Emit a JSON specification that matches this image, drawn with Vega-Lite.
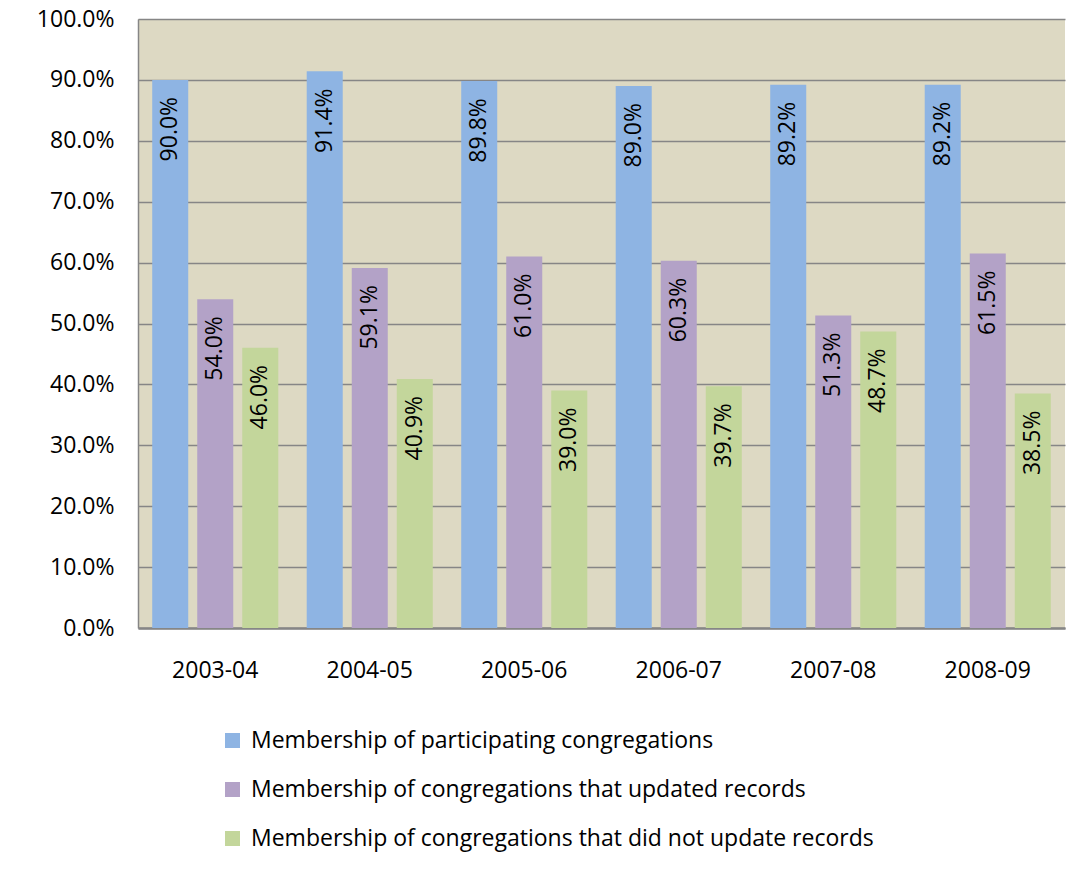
{
  "$schema": "https://vega.github.io/schema/vega-lite/v6.json",
  "width": 927,
  "height": 609,
  "autosize": {"type": "none"},
  "padding": {"left": 138, "top": 19, "right": 20, "bottom": 241},
  "background": "white",
  "config": {
    "view": {"fill": "#DDD9C3", "stroke": null},
    "font": "Open Sans"
  },
  "data": {
    "values": [
      {"year": "2003-04", "series": "Membership of participating congregations", "value": 0.900},
      {"year": "2003-04", "series": "Membership of congregations that updated records", "value": 0.540},
      {"year": "2003-04", "series": "Membership of congregations that did not update records", "value": 0.460},
      {"year": "2004-05", "series": "Membership of participating congregations", "value": 0.914},
      {"year": "2004-05", "series": "Membership of congregations that updated records", "value": 0.591},
      {"year": "2004-05", "series": "Membership of congregations that did not update records", "value": 0.409},
      {"year": "2005-06", "series": "Membership of participating congregations", "value": 0.898},
      {"year": "2005-06", "series": "Membership of congregations that updated records", "value": 0.610},
      {"year": "2005-06", "series": "Membership of congregations that did not update records", "value": 0.390},
      {"year": "2006-07", "series": "Membership of participating congregations", "value": 0.890},
      {"year": "2006-07", "series": "Membership of congregations that updated records", "value": 0.603},
      {"year": "2006-07", "series": "Membership of congregations that did not update records", "value": 0.397},
      {"year": "2007-08", "series": "Membership of participating congregations", "value": 0.892},
      {"year": "2007-08", "series": "Membership of congregations that updated records", "value": 0.513},
      {"year": "2007-08", "series": "Membership of congregations that did not update records", "value": 0.487},
      {"year": "2008-09", "series": "Membership of participating congregations", "value": 0.892},
      {"year": "2008-09", "series": "Membership of congregations that updated records", "value": 0.615},
      {"year": "2008-09", "series": "Membership of congregations that did not update records", "value": 0.385}
    ]
  },
  "encoding": {
    "x": {
      "field": "year",
      "type": "nominal",
      "scale": {"paddingInner": 0.184, "paddingOuter": 0.092},
      "axis": {
        "title": null,
        "labelAngle": 0,
        "labelFontSize": 23,
        "labelColor": "#000000",
        "labelPadding": 31,
        "ticks": false,
        "domainColor": "#868686",
        "domainWidth": 2.5,
        "grid": false
      }
    },
    "xOffset": {
      "field": "series",
      "type": "nominal",
      "sort": [
        "Membership of participating congregations",
        "Membership of congregations that updated records",
        "Membership of congregations that did not update records"
      ],
      "scale": {"paddingInner": 0.2, "paddingOuter": 0}
    },
    "y": {
      "field": "value",
      "type": "quantitative",
      "scale": {"domain": [0, 1]},
      "axis": {
        "title": null,
        "format": ".1%",
        "values": [0, 0.1, 0.2, 0.3, 0.4, 0.5, 0.6, 0.7, 0.8, 0.9, 1.0],
        "labelFontSize": 23,
        "labelColor": "#000000",
        "labelPadding": 24,
        "ticks": false,
        "domainColor": "#868686",
        "domainWidth": 1.5,
        "gridColor": "#868686",
        "gridWidth": 1.5
      }
    }
  },
  "layer": [
    {
      "mark": {"type": "bar"},
      "encoding": {
        "color": {
          "field": "series",
          "type": "nominal",
          "scale": {
            "domain": [
              "Membership of participating congregations",
              "Membership of congregations that updated records",
              "Membership of congregations that did not update records"
            ],
            "range": ["#8EB4E3", "#B3A2C7", "#C3D69B"]
          },
          "legend": {
            "title": null,
            "orient": "none",
            "legendX": 83,
            "legendY": 710,
            "direction": "vertical",
            "symbolType": "square",
            "symbolSize": 225,
            "symbolStrokeWidth": 0,
            "labelFont": "Open Sans",
            "labelFontSize": 23,
            "labelColor": "#000000",
            "labelOffset": 7,
            "rowPadding": 25,
            "labelLimit": 900
          }
        }
      }
    },
    {
      "mark": {
        "type": "text",
        "angle": 270,
        "align": "right",
        "baseline": "middle",
        "dx": -17,
        "fontSize": 23,
        "color": "#000000"
      },
      "encoding": {
        "text": {"field": "value", "type": "quantitative", "format": ".1%"}
      }
    }
  ]
}
